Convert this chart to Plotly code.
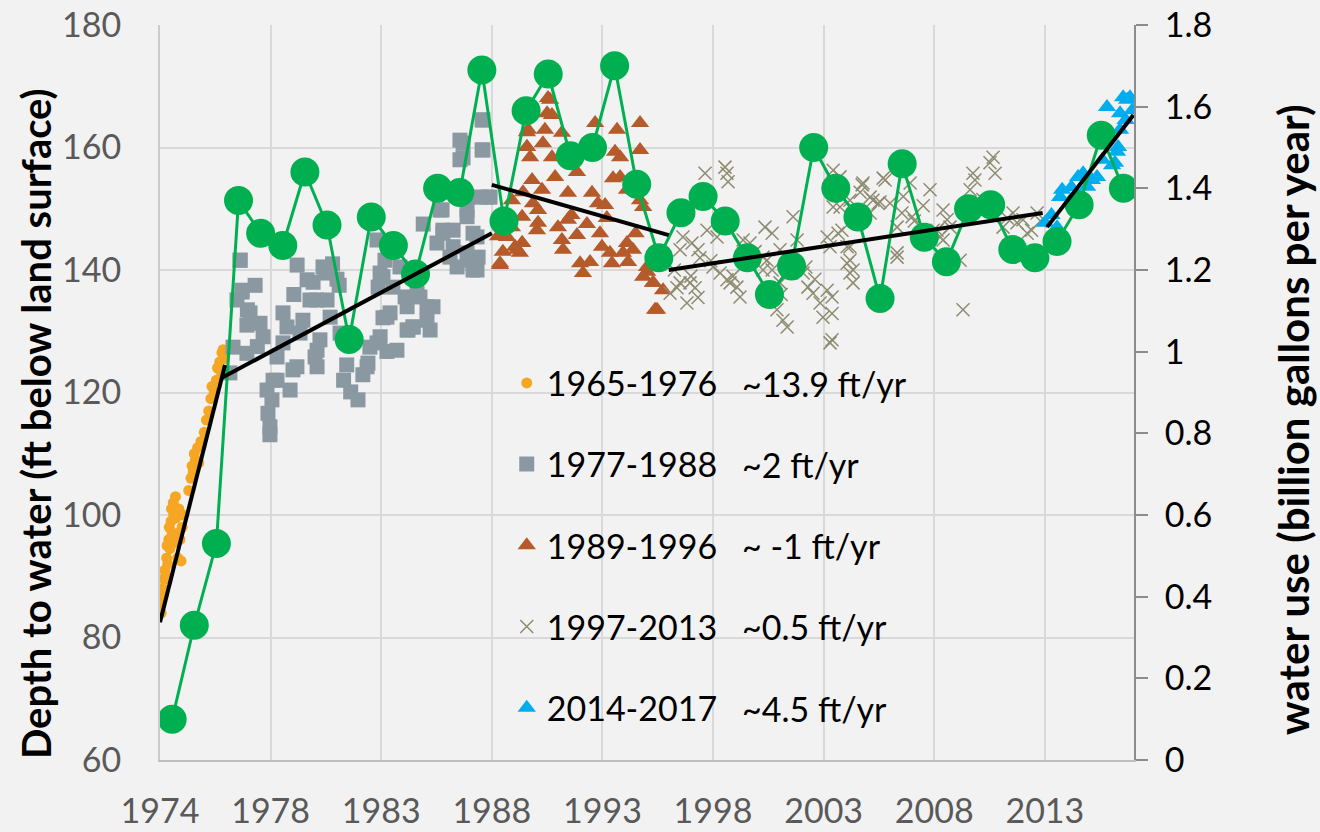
import plotly.graph_objects as go

# ---------------- data ----------------
tick_vals = [1974.0, 1979.0, 1984.0, 1989.0, 1994.0, 1999.0, 2004.0, 2009.0, 2014.0]
tick_text = ["1974", "1978", "1983", "1988", "1993", "1998", "2003", "2008", "2013"]

orange_x = [1974.0, 1974.02, 1974.05, 1974.1, 1974.12, 1974.15, 1974.2, 1974.22, 1974.25, 1974.3,
            1974.32, 1974.35, 1974.4, 1974.42, 1974.45, 1974.5, 1974.52, 1974.55, 1974.6, 1974.62,
            1974.65, 1974.7, 1974.72, 1974.75, 1974.8, 1974.85, 1974.9, 1974.95, 1975.0, 1975.05,
            1975.3, 1975.4, 1975.45, 1975.5, 1975.55, 1975.6, 1975.7, 1975.75, 1975.85, 1976.0,
            1976.1, 1976.2, 1976.3, 1976.35, 1976.45, 1976.55, 1976.6, 1976.7, 1976.75, 1976.8,
            1976.85, 1976.9]
orange_y = [84.5, 85.5, 84.0, 86.5, 88.0, 87.0, 89.5, 91.0, 90.0, 93.0,
            95.0, 92.0, 96.0, 98.0, 94.5, 99.0, 101.0, 97.0, 102.0, 100.0,
            95.5, 103.0, 99.5, 97.0, 93.0, 101.0, 96.0, 92.5, 98.0, 100.0,
            104.0, 106.0, 108.0, 107.0, 110.0, 109.0, 111.0, 108.5, 112.0, 113.5,
            115.5, 117.0, 119.0, 121.0, 120.0, 122.0, 124.0, 125.0, 123.5, 126.5,
            127.0, 125.5]

gray_x = [1977.62, 1977.71, 1977.48, 1978.07, 1978.52, 1977.93, 1978.66, 1977.30, 1977.93, 1977.16,
          1979.56, 1979.74, 1979.56, 1979.29, 1980.01, 1979.11, 1978.84, 1979.88, 1979.06, 1978.88,
          1978.97, 1978.97, 1980.65, 1980.78, 1980.46, 1980.33, 1981.10, 1981.37, 1981.01, 1981.10,
          1981.23, 1977.62, 1977.71, 1980.92, 1981.55, 1983.81, 1984.17, 1983.95, 1984.53, 1984.26,
          1983.95, 1984.71, 1983.49, 1983.40, 1983.36, 1982.14, 1981.10, 1980.19, 1979.29, 1985.17,
          1985.62, 1986.07, 1986.34, 1985.17, 1985.44, 1986.75, 1986.79, 1987.25, 1987.88, 1988.15,
          1987.25, 1987.70, 1987.56, 1988.60, 1988.60, 1988.47, 1988.92, 1987.88, 1988.15, 1988.38,
          1988.33, 1981.46, 1981.55, 1981.69, 1984.08, 1984.26, 1983.81, 1984.08, 1984.85, 1983.86,
          1985.08, 1985.75, 1986.07, 1985.44, 1986.21, 1985.21, 1986.66, 1986.79, 1986.52, 1987.11,
          1987.43, 1988.01, 1988.15, 1987.56, 1987.70, 1988.56, 1988.56, 1988.78, 1987.92, 1987.88,
          1988.33, 1982.30, 1982.62, 1982.95, 1983.17, 1982.44, 1981.80, 1982.00, 1982.10, 1980.20,
          1980.05, 1978.30, 1978.40, 1977.95, 1986.90, 1985.90, 1984.40]
gray_y = [141.6, 136.7, 135.1, 133.0, 131.3, 131.0, 129.1, 127.4, 126.4, 123.2,
          133.0, 130.7, 128.1, 125.8, 123.7, 122.0, 120.4, 120.4, 118.8, 116.6,
          114.4, 113.1, 138.4, 135.1, 131.8, 129.7, 135.1, 140.5, 125.8, 124.2,
          128.6, 141.6, 136.4, 138.0, 140.3, 144.9, 141.6, 139.5, 137.2, 132.3,
          129.1, 126.9, 127.4, 124.8, 124.2, 129.7, 126.9, 124.2, 122.0, 134.0,
          136.2, 131.8, 134.0, 130.2, 130.7, 149.8, 146.0, 143.8, 142.8, 141.1,
          146.5, 160.7, 158.0, 164.5, 159.6, 151.9, 151.9, 149.8, 146.0, 142.1,
          140.0, 139.5, 135.1, 132.3, 132.2, 126.7, 128.1, 138.9, 140.5, 137.2,
          135.6, 135.6, 134.0, 130.7, 130.2, 130.2, 149.8, 146.5, 144.4, 142.1,
          140.5, 141.6, 140.0, 161.2, 158.3, 164.5, 159.6, 151.9, 151.9, 148.7,
          145.4, 122.0, 120.1, 118.8, 122.9, 124.5, 141.0, 138.5, 137.5, 140.8,
          136.0, 137.5, 127.5, 133.5, 153.0, 147.5, 133.0]

brown_x = [1991.54, 1991.72, 1991.40, 1991.31, 1990.59, 1990.59, 1990.73, 1991.72, 1991.86, 1990.82,
           1991.27, 1990.41, 1990.86, 1991.09, 1990.37, 1991.09, 1991.04, 1989.91, 1989.69, 1990.05,
           1990.27, 1990.37, 1989.37, 1991.99, 1992.17, 1992.22, 1992.44, 1992.44, 1992.85, 1992.99,
           1993.12, 1993.44, 1993.53, 1993.80, 1994.12, 1993.89, 1993.98, 1994.34, 1994.43, 1993.67,
           1994.66, 1994.57, 1994.80, 1994.48, 1994.80, 1995.70, 1995.70, 1995.11, 1995.70, 1995.84,
           1995.11, 1995.38, 1994.93, 1995.16, 1992.17, 1992.85, 1996.02, 1996.29, 1996.38, 1996.74,
           1996.47, 1996.02, 1996.29, 1995.84, 1989.37, 1989.91, 1990.14, 1990.37, 1991.63, 1991.50,
           1990.64, 1990.59, 1989.28, 1989.50, 1992.60, 1993.30, 1994.20, 1995.50]
brown_y = [168.1, 165.3, 162.9, 160.7, 162.5, 160.1, 158.4, 158.4, 155.2, 154.7,
           153.1, 152.7, 150.9, 149.8, 148.7, 147.7, 146.5, 151.4, 145.4, 143.8,
           142.8, 144.4, 140.8, 147.0, 144.9, 143.3, 148.2, 152.6, 145.7, 141.1,
           139.5, 141.3, 152.6, 150.9, 150.6, 146.0, 143.8, 142.8, 141.1, 164.0,
           162.9, 159.3, 158.4, 155.0, 155.2, 164.0, 159.6, 153.1, 151.4, 150.3,
           144.4, 143.3, 142.8, 141.3, 162.4, 156.0, 139.7, 137.9, 133.5, 136.7,
           133.5, 140.5, 137.9, 138.9, 141.1, 147.0, 143.3, 144.4, 167.8, 165.6,
           162.9, 160.1, 145.5, 143.0, 149.0, 147.5, 148.5, 146.0]

xgray_x = [1998.64, 1999.54, 1999.63, 1999.68, 1997.64, 1998.05, 1997.51, 1998.32, 1998.73, 1999.18,
           1998.41, 1997.37, 1997.06, 1997.96, 1998.19, 1998.32, 1997.82, 1997.51, 1999.00, 1999.32,
           1999.63, 1999.77, 2000.08, 2000.22, 2000.36, 2000.67, 2001.35, 2001.67, 2001.44, 2001.26,
           2002.03, 2001.89, 2002.16, 2002.35, 2002.03, 2002.62, 2002.80, 2003.07, 2003.29, 2003.52,
           2003.84, 2003.97, 2004.29, 2004.43, 2004.43, 2004.16, 2004.29, 2004.16, 2004.74, 2005.74,
           2006.10, 2006.69, 2006.55, 2007.00, 2007.54, 2007.32, 2008.81, 2009.40, 2009.71, 2009.40,
           2009.13, 2007.32, 2005.65, 2005.19, 2004.74, 2004.83, 2005.19, 2005.06, 2005.19, 2005.33,
           2006.10, 2010.30, 2010.84, 2011.52, 2011.66, 2005.78, 2006.23, 2006.46, 2006.78, 2007.91,
           2008.00, 2008.95, 2009.58, 2009.26, 2010.17, 2010.75, 2010.62, 2011.75, 2012.56, 2012.74,
           2013.01, 2013.20, 2012.11, 2013.65, 2004.65, 2005.06, 2005.19, 2005.33, 2004.38, 2004.38,
           2004.38, 2007.32, 2001.26, 2001.67, 2002.08, 1998.90, 1999.90, 2000.50, 2000.90, 2003.20,
           2003.60, 2007.60, 2008.10, 2008.50, 2011.20, 2012.30, 2013.40, 2013.80, 1997.25, 1998.00]
xgray_y = [155.8, 156.8, 155.8, 154.4, 145.4, 144.4, 143.3, 143.3, 146.5, 145.4,
           142.0, 137.1, 136.2, 137.9, 137.1, 135.5, 134.6, 137.9, 140.5, 139.5,
           138.4, 137.9, 137.2, 135.6, 144.9, 144.4, 147.0, 146.0, 141.6, 140.0,
           137.9, 133.5, 131.8, 130.7, 143.3, 148.7, 144.9, 139.5, 137.2, 136.2,
           134.6, 132.3, 128.1, 156.3, 150.3, 145.4, 143.8, 136.7, 155.2, 153.9,
           151.9, 155.0, 151.1, 150.9, 149.3, 147.0, 153.1, 149.8, 147.0, 144.9,
           146.5, 142.1, 152.7, 151.4, 150.3, 146.5, 143.8, 141.1, 139.5, 137.9,
           149.3, 133.5, 154.7, 157.5, 158.4, 154.2, 151.4, 150.9, 154.7, 154.2,
           148.7, 146.5, 148.2, 145.4, 141.6, 155.8, 153.1, 155.8, 149.3, 147.7,
           148.2, 146.0, 147.0, 149.3, 146.0, 143.8, 141.6, 140.0, 135.6, 132.9,
           128.6, 142.8, 142.1, 140.0, 136.0, 141.5, 139.0, 141.5, 143.0, 140.5,
           138.5, 152.0, 148.0, 150.5, 151.5, 148.5, 146.5, 148.0, 140.0, 139.0]

blue_x = [2014.01, 2014.55, 2014.78, 2014.69, 2015.50, 2015.73, 2016.13, 2016.36, 2015.91, 2016.81,
          2017.40, 2017.54, 2017.85, 2017.72, 2017.95, 2017.31, 2017.26, 2017.17, 2017.04, 2017.40,
          2014.30, 2015.20, 2016.60, 2017.65]
blue_y = [147.7, 147.0, 153.1, 151.9, 155.2, 155.8, 154.7, 155.2, 153.6, 166.6,
          165.6, 168.2, 168.2, 167.8, 166.1, 160.1, 159.3, 157.5, 157.1, 162.9,
          149.0, 153.5, 158.0, 164.5]

use_years = [1974.55 + i for i in range(44)]
use_vals = [0.10, 0.33, 0.53, 1.37, 1.29, 1.26, 1.44, 1.31, 1.03, 1.33,
            1.26, 1.19, 1.40, 1.39, 1.69, 1.32, 1.59, 1.68, 1.48, 1.50,
            1.70, 1.41, 1.23, 1.34, 1.38, 1.32, 1.23, 1.14, 1.21, 1.50,
            1.40, 1.33, 1.13, 1.46, 1.28, 1.22, 1.35, 1.36, 1.25, 1.23,
            1.27, 1.36, 1.53, 1.40]

trend_x = [[1974.0, 1976.94], [1976.8, 1989.0], [1989.0, 1997.0], [1997.0, 2013.9], [2014.1, 2018.0]]
trend_y = [[82.5, 124.5], [122.4, 146.0], [153.9, 145.7], [140.0, 149.3], [147.0, 165.3]]

series_names = ["1965-1976", "1977-1988", "1989-1996", "1997-2013", "2014-2017"]
rates = ["~13.9 ft/yr", "~2 ft/yr", "~ -1 ft/yr", "~0.5 ft/yr", "~4.5 ft/yr"]

# ---------------- figure ----------------
FONT = "Lato"
fig = go.Figure()

fig.add_trace(go.Scatter(x=orange_x, y=orange_y, mode="markers", name=series_names[0],
                         legendgroup="g1",
                         marker=dict(symbol="circle", size=11, color="#f5a623")))
fig.add_trace(go.Scatter(x=gray_x, y=gray_y, mode="markers", name=series_names[1],
                         legendgroup="g2",
                         marker=dict(symbol="square", size=15, color="#8a99a1")))
fig.add_trace(go.Scatter(x=brown_x, y=brown_y, mode="markers", name=series_names[2],
                         legendgroup="g3",
                         marker=dict(symbol="triangle-up", size=16, color="#b55a2a")))
fig.add_trace(go.Scatter(x=xgray_x, y=xgray_y, mode="markers", name=series_names[3],
                         legendgroup="g4",
                         marker=dict(symbol="x-thin", size=13, color="#8e8b70",
                                     line=dict(width=1.5, color="#8e8b70"))))
fig.add_trace(go.Scatter(x=blue_x, y=blue_y, mode="markers", name=series_names[4],
                         legendgroup="g5",
                         marker=dict(symbol="triangle-up", size=16, color="#00aeef")))

fig.add_trace(go.Scatter(x=use_years, y=use_vals, yaxis="y2", mode="lines+markers",
                         showlegend=False, line=dict(color="#00b050", width=3),
                         marker=dict(size=29, color="#00b050")))

for tx, ty in zip(trend_x, trend_y):
    fig.add_trace(go.Scatter(x=tx, y=ty, yaxis="y3", mode="lines", showlegend=False,
                             line=dict(color="black", width=4)))

# rate annotations
ann = []
row_y = [0.5116, 0.4027, 0.2925, 0.1823, 0.0707]
for r, yy in zip(rates, row_y):
    ann.append(dict(text=r, x=0.5955, y=yy, xref="paper", yref="paper", xanchor="left",
                    yanchor="middle", showarrow=False, font=dict(family=FONT, size=34, color="black")))
ann.append(dict(text="<b>Depth to water (ft below land surface)</b>", x=-0.1273, y=0.457,
                xref="paper", yref="paper", textangle=-90, showarrow=False,
                xanchor="center", yanchor="middle",
                font=dict(family=FONT, size=40, color="black")))
ann.append(dict(text="<b>water use (billion gallons per year)</b>", x=1.1632, y=0.4626,
                xref="paper", yref="paper", textangle=-90, showarrow=False,
                xanchor="center", yanchor="middle",
                font=dict(family=FONT, size=42, color="black")))

fig.update_layout(
    width=1320, height=832,
    paper_bgcolor="#f2f2f2", plot_bgcolor="#f2f2f2",
    margin=dict(l=160, r=186, t=25, b=72),
    font=dict(family=FONT, color="#595959"),
    annotations=ann,
    showlegend=True,
    legend=dict(x=0.356, y=0.552, xanchor="left", yanchor="top",
                bgcolor="rgba(0,0,0,0)", traceorder="grouped", tracegroupgap=34,
                font=dict(family=FONT, size=34, color="black")),
    xaxis=dict(range=[1974.0, 2018.03], tickvals=tick_vals, ticktext=tick_text,
               showgrid=True, gridcolor="#d9d9d9", gridwidth=1.5, zeroline=False,
               showline=True, linecolor="#bfbfbf", linewidth=2, ticks="",
               ticklabelstandoff=20, automargin=False,
               tickfont=dict(family=FONT, size=34, color="#595959")),
    yaxis=dict(range=[60, 180], dtick=20, showgrid=True, gridcolor="#d9d9d9", gridwidth=1.5,
               zeroline=False, showline=True, linecolor="#cccccc", linewidth=2, ticks="",
               ticklabelstandoff=30, automargin=False,
               tickfont=dict(family=FONT, size=34, color="#595959")),
    yaxis2=dict(range=[0, 1.8], dtick=0.2, overlaying="y", side="right", showgrid=False,
                zeroline=False, showline=True, linecolor="#8c8c8c", linewidth=2,
                ticks="outside", ticklen=12, tickwidth=2, tickcolor="#8c8c8c",
                ticklabelstandoff=10, automargin=False,
                tickfont=dict(family=FONT, size=34, color="black")),
    yaxis3=dict(range=[60, 180], overlaying="y", visible=False),
)

fig.write_html(
    "out.html",
    config={"displayModeBar": False},
    post_script="document.body.style.margin='0';document.body.style.padding='0';"
                "document.body.style.overflow='hidden';document.body.style.background='#f2f2f2';",
)
